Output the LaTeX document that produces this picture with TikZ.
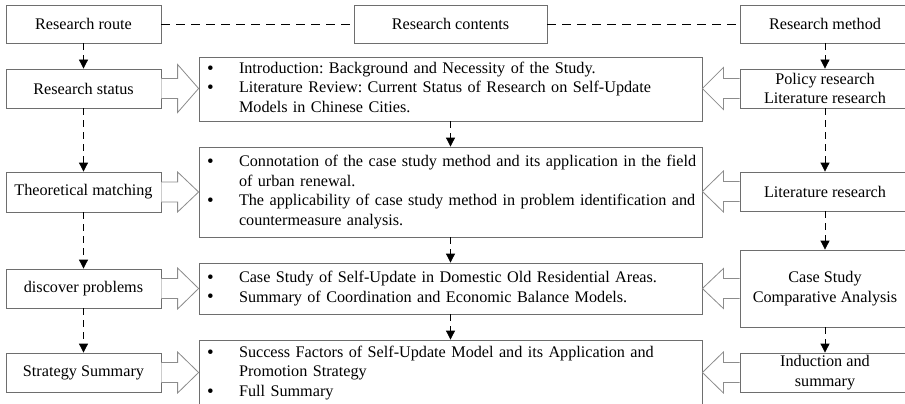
\documentclass[tikz,border=0pt]{standalone}
\usepackage{fontspec}
\setmainfont{Liberation Serif}
\usetikzlibrary{arrows.meta,calc}

\definecolor{boxgray}{HTML}{6E6E6E}
\definecolor{hollowgray}{HTML}{8C8C8C}
\newcommand\lbl{\fontsize{16.2}{19.5}\selectfont\frenchspacing}
\newcommand\bulletmark{\raisebox{-0.6pt}[0pt][0pt]{\fontsize{19}{19.5}\selectfont\textbullet}}
\newcommand\itm[1]{\makebox[32pt][l]{\bulletmark}#1}
\newcommand\cnt[1]{\hspace*{32pt}#1}

% open block arrow from the side of box #1 towards box #2
% (#3 = +1 points right, -1 points left; #4 = half height of the head)
\newcommand\blockarrow[4]{%
  \draw[hollow] let \p1=(#1), \p2=(#2) in
    (\x1,\y1+10pt) -- ({\x2-#3*21pt},\y1+10pt) -- ({\x2-#3*21pt},\y1+#4) --
    (\x2,\y1) -- ({\x2-#3*21pt},\y1-#4) -- ({\x2-#3*21pt},\y1-10pt) --
    (\x1,\y1-10pt);}

\begin{document}
\begin{tikzpicture}[x=1pt,y=-1pt,
  sidebox/.style={draw=boxgray, line width=0.8pt, fill=white, inner sep=0pt,
    align=center, font=\lbl, minimum width=155, minimum height=39},
  rightbox/.style={sidebox, minimum width=170},
  contentbox/.style={draw=boxgray, line width=0.8pt, fill=white,
    text width=487pt, inner xsep=8pt, inner ysep=0pt, align=left, font=\lbl},
  flow/.style={line width=0.8pt, dash pattern=on 7pt off 5pt,
    -{Triangle[width=9pt,length=9pt]}},
  link/.style={line width=0.8pt, dash pattern=on 9pt off 6pt},
  hollow/.style={draw=hollowgray, line width=0.8pt, fill=white, line join=miter}]

\useasboundingbox (0,0) rectangle (905,404);
\fill[white] (0,0) rectangle (905,404);
\clip (0,0) rectangle (905,404);

% ---- header row ----
\node[sidebox, minimum height=38] (route) at (83.5,24) {Research route};
\node[sidebox, minimum width=193, minimum height=38] (contents) at (450.5,24) {Research contents};
\node[rightbox, minimum height=38] (method) at (825,24) {Research method};

% ---- research route column ----
\node[sidebox] (status) at (83.5,88.5) {Research status};
\node[sidebox, minimum height=40] (theory) at (83.5,192) {Theoretical matching};
\node[sidebox] (discover) at (83.5,288.5) {discover problems};
\node[sidebox] (strategy) at (83.5,372.5) {Strategy Summary};

% ---- research method column ----
\node[rightbox] (policy) at (825,88.5) {Policy research\\Literature research};
\node[rightbox] (lit) at (825,191.5) {Literature research};
\node[rightbox, minimum height=77] (case) at (825,288.5) {Case Study\\Comparative Analysis};
\node[rightbox] (induct) at (825,372.5) {Induction and\\summary};

% ---- research contents column ----
\node[contentbox, minimum height=64] (c1) at (450.5,89) {\noindent
  \begin{tabular}{@{}l@{}}
  \itm{Introduction: Background and Necessity of the Study.}\\
  \itm{Literature Review: Current Status of Research on Self-Update}\\
  \cnt{Models in Chinese Cities.}
  \end{tabular}};
\node[contentbox, minimum height=90] (c2) at (450.5,192) {\noindent
  \begin{tabular}{@{}l@{}}
  \itm{Connotation of the case study method and its application in the field}\\
  \cnt{of urban renewal.}\\
  \itm{The applicability of case study method in problem identification and}\\
  \cnt{countermeasure analysis.}
  \end{tabular}};
\node[contentbox, minimum height=51] (c3) at (450.5,288.5) {\noindent
  \begin{tabular}{@{}l@{}}
  \itm{Case Study of Self-Update in Domestic Old Residential Areas.}\\
  \itm{Summary of Coordination and Economic Balance Models.}
  \end{tabular}};
\node[contentbox, minimum height=66] (c4) at (450.5,373) {\noindent
  \begin{tabular}{@{}l@{}}
  \itm{Success Factors of Self-Update Model and its Application and}\\
  \cnt{Promotion Strategy}\\
  \itm{Full Summary}
  \end{tabular}};

% ---- dashed links in the header row ----
\draw[link] (route.east) -- (contents.west);
\draw[link] (contents.east) -- (method.west);

% ---- dashed flow arrows ----
\draw[flow] (route.south) -- (status.north);
\draw[flow] (status.south) -- (theory.north);
\draw[flow] (theory.south) -- (discover.north);
\draw[flow] (discover.south) -- (strategy.north);

\draw[flow] (c1.south) -- (c2.north);
\draw[flow] (c2.south) -- (c3.north);
\draw[flow] (c3.south) -- (c4.north);

\draw[flow] (method.south) -- (policy.north);
\draw[flow] (policy.south) -- (lit.north);
\draw[flow] (lit.south) -- (case.north);
\draw[flow] (case.south) -- (induct.north);

% ---- open block arrows into the contents ----
\blockarrow{status.east}{c1.west}{1}{24pt}
\blockarrow{theory.east}{c2.west}{1}{20pt}
\blockarrow{discover.east}{c3.west}{1}{20.5pt}
\blockarrow{strategy.east}{c4.west}{1}{20.5pt}

\blockarrow{policy.west}{c1.east}{-1}{21pt}
\blockarrow{lit.west}{c2.east}{-1}{20.5pt}
\blockarrow{case.west}{c3.east}{-1}{20pt}
\blockarrow{induct.west}{c4.east}{-1}{20.5pt}

\end{tikzpicture}
\end{document}
